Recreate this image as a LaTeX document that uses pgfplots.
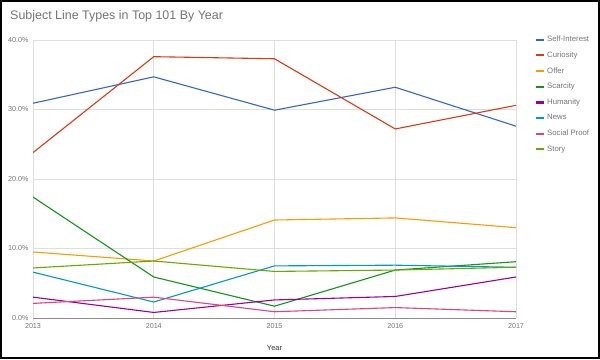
\documentclass[border=0pt]{standalone}
\usepackage{pgfplots}
\pgfplotsset{compat=1.18}
\usepackage{fontspec}
\setmainfont{Liberation Sans}
\definecolor{cSelf}{HTML}{3366CC}
\definecolor{cCur}{HTML}{DC3912}
\definecolor{cOff}{HTML}{FF9900}
\definecolor{cSca}{HTML}{109618}
\definecolor{cHum}{HTML}{990099}
\definecolor{cNews}{HTML}{0099C6}
\definecolor{cSoc}{HTML}{DD4477}
\definecolor{cSto}{HTML}{66AA00}
\definecolor{txtgray}{HTML}{757575}
\begin{document}
\begin{tikzpicture}[x=1bp,y=1bp]
\fill[white] (0,0) rectangle (600,359);
\useasboundingbox (0,0) rectangle (600,359);
\draw[black,line width=2bp] (1,1) rectangle (599,358);
\node[anchor=west,text=txtgray,font=\fontsize{12.5}{14}\selectfont,inner sep=0] at (10,343) {Subject Line Types in Top 101 By Year};
\begin{axis}[
  at={(33bp,41bp)}, anchor=south west,
  scale only axis, width=483bp, height=278bp,
  xmin=2013, xmax=2017, ymin=0, ymax=40,
  xtick={2013,2014,2015,2016,2017},
  ytick={0,10,20,30,40},
  /pgf/number format/assume math mode=true,
  x tick label style={/pgf/number format/1000 sep={}, text=txtgray, font=\fontsize{7.2}{8}\selectfont, yshift=-2bp},
  yticklabel={\pgfmathprintnumber[fixed,fixed zerofill,precision=1]{\tick}\%},
  y tick label style={text=txtgray, font=\fontsize{7.2}{8}\selectfont, xshift=-1bp},
  major tick length=0pt,
  grid=major,
  major grid style={color=black!13, line width=0.9bp},
  axis x line*=bottom, axis y line*=left,
  x axis line style={color=black!45, line width=1bp},
  y axis line style={draw=none},
  xlabel={Year}, xlabel style={font=\fontsize{7.5}{9}\selectfont, text=black!80, yshift=-10bp},
  every axis plot/.append style={line width=1.1bp, mark=none},
  legend style={at={(1.039,1.022)}, anchor=north west, draw=none, fill=none, font=\fontsize{7.8}{9}\selectfont, text=txtgray, row sep=4.6bp, inner sep=0pt},
  legend cell align=left,
  legend image code/.code={\draw[line width=2.2bp] (0bp,0bp) -- (8bp,0bp);},
]
\addplot[cSelf] coordinates {(2013,30.9) (2014,34.7) (2015,29.9) (2016,33.2) (2017,27.6)};
\addlegendentry{Self-Interest}
\addplot[cCur] coordinates {(2013,23.8) (2014,37.6) (2015,37.3) (2016,27.2) (2017,30.6)};
\addlegendentry{Curiosity}
\addplot[cOff] coordinates {(2013,9.5) (2014,8.2) (2015,14.1) (2016,14.4) (2017,13.0)};
\addlegendentry{Offer}
\addplot[cSca] coordinates {(2013,17.4) (2014,5.9) (2015,1.7) (2016,6.9) (2017,8.1)};
\addlegendentry{Scarcity}
\addplot[cHum] coordinates {(2013,3.0) (2014,0.8) (2015,2.6) (2016,3.1) (2017,5.9)};
\addlegendentry{Humanity}
\addplot[cNews] coordinates {(2013,6.6) (2014,2.3) (2015,7.5) (2016,7.6) (2017,7.3)};
\addlegendentry{News}
\addplot[cSoc] coordinates {(2013,2.1) (2014,3.0) (2015,0.9) (2016,1.5) (2017,0.9)};
\addlegendentry{Social Proof}
\addplot[cSto] coordinates {(2013,7.2) (2014,8.2) (2015,6.7) (2016,6.9) (2017,7.3)};
\addlegendentry{Story}
\end{axis}
\end{tikzpicture}
\end{document}
